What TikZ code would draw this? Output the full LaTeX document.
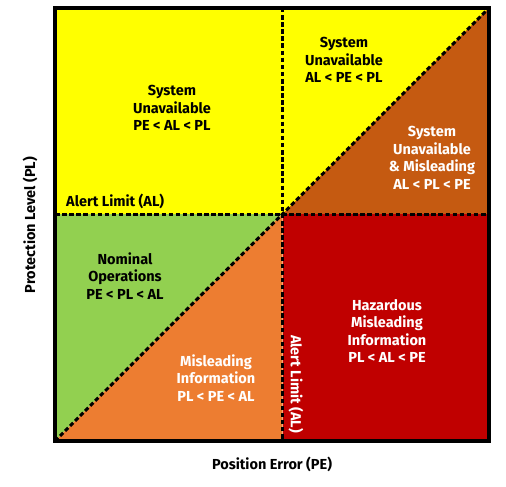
\documentclass[tikz,border=0pt]{standalone}
\usepackage{fontspec}
\setmainfont{Fira Sans}
\definecolor{cyel}{HTML}{FFFF00}
\definecolor{cbrown}{HTML}{C55A11}
\definecolor{cgreen}{HTML}{92D050}
\definecolor{corange}{HTML}{ED7D31}
\definecolor{cred}{HTML}{C00000}
\begin{document}
\begin{tikzpicture}[x=1pt,y=-1pt,
  lbl/.style={font=\fontsize{14.5}{17.5}\selectfont\bfseries, align=center, inner sep=0pt},
  divline/.style={black, line width=3pt, dash pattern=on 4.5pt off 2.6pt},
  frame/.style={black, line width=4pt}]
\useasboundingbox (0,0) rectangle (506,487);
\coordinate (TL) at (55,8);
\coordinate (TR) at (489,8);
\coordinate (BL) at (55,441);
\coordinate (BR) at (489,441);
\coordinate (C) at (282.5,214);
\coordinate (CT) at (282.5,8);
\coordinate (CB) at (282.5,441);
\coordinate (CL) at (55,214);
\coordinate (CR) at (489,214);
% fills
\fill[cyel] (TL) rectangle (CR);
\fill[cbrown] (C) -- (TR) -- (CR) -- cycle;
\fill[cred] (C) rectangle (BR);
\fill[cgreen] (CL) -- (C) -- (BL) -- cycle;
\fill[corange] (C) -- (CB) -- (BL) -- cycle;
% dividers
\draw[divline] (CT) -- (CB);
\draw[divline] (CL) -- (CR);
\draw[divline] (BL) -- (TR);
\draw[frame] (TL) rectangle (BR);
% labels
\node[lbl] (q1) at (172,108) {System\\Unavailable\\PE < AL < PL};
\node[lbl] (q2) at (344,60) {System\\Unavailable\\AL < PE < PL};
\node[lbl, text=white] (q3) at (432,158) {System\\Unavailable\\\& Misleading\\AL < PL < PE};
\node[lbl, anchor=west] (alh) at (66,201.5) {Alert Limit (AL)};
\node[lbl] (q4) at (125,276) {Nominal\\Operations\\PE < PL < AL};
\node[lbl, text=white] (q5) at (387,331) {Hazardous\\Misleading\\Information\\PL < AL < PE};
\node[lbl, text=white] (q6) at (216,378) {Misleading\\Information\\PL < PE < AL};
\node[lbl, text=white, rotate=-90] (alv) at (296,384) {Alert Limit (AL)};
\node[lbl, rotate=90] (yax) at (30,225) {Protection Level (PL)};
\node[lbl] (xax) at (272,464) {Position Error (PE)};
\end{tikzpicture}
\end{document}
